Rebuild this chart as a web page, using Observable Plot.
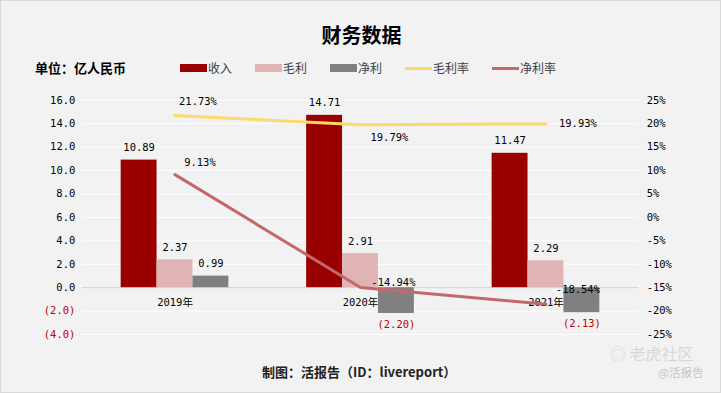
<!DOCTYPE html>
<html><head><meta charset="utf-8">
<script src="https://cdn.jsdelivr.net/npm/d3@7"></script>
<script src="https://cdn.jsdelivr.net/npm/@observablehq/plot@0.6"></script>
<style>
body{margin:0;background:#fff}
#wrap{position:relative;width:719px;height:391px;background:#f2f2f2;border:1px solid #d9d9d9;overflow:hidden;font-family:"Noto Sans CJK SC",sans-serif}
.abs{position:absolute;white-space:nowrap}
#wrap svg{position:absolute;left:-1px;top:-1px}
#legend{position:absolute;left:179px;top:59px;display:flex;gap:23px;align-items:center;font-size:12px;color:#404040;line-height:16px}
#legend .it{display:flex;align-items:center}
#legend .sw{width:27px;margin-right:1px}
</style></head>
<body>
<div id="wrap">
  <div class="abs" style="left:0;width:721px;top:20px;text-align:center;font-size:20px;font-weight:bold;line-height:28px;color:#000">财务数据</div>
  <div class="abs" style="left:34px;top:58px;font-size:13px;font-weight:bold;line-height:18px;color:#000">单位：亿人民币</div>
  <div id="legend"></div>
  <div class="abs" style="left:261px;top:362px;font-size:13px;font-weight:bold;line-height:18px;color:#222">制图：活报告（ID：livereport）</div>
  <div class="abs" style="left:609px;top:344px;font-size:16px;line-height:17px;color:#d8d8d8">◎ 老虎社区</div>
  <div class="abs" style="left:657px;top:364px;font-size:11.5px;line-height:14px;color:#c4c4c4">@活报告</div>
</div>
<script>
// ---- data ----
const years = ["2019年", "2020年", "2021年"];
const seriesNames = ["收入", "毛利", "净利"];
const revenue = [10.89, 14.71, 11.47];
const grossProfit = [2.37, 2.91, 2.29];
const netProfit = [0.99, -2.20, -2.13];
const marginNames = ["毛利率", "净利率"];
const grossMargin = [21.73, 19.79, 19.93];
const netMargin = [9.13, -14.94, -18.54];
const leftTicks = [-4, -2, 0, 2, 4, 6, 8, 10, 12, 14, 16];
const rightTicks = [-25, -20, -15, -10, -5, 0, 5, 10, 15, 20, 25];

// ---- styles ----
const barColors = ["#990000", "#e0b4b4", "#808080"];
const lineColors = ["#fcd96b", "#c3686b"];
const mono = "'DejaVu Sans Mono','Noto Sans CJK SC',monospace";

const bars = years.flatMap((y, i) => [
  {year: y, s: seriesNames[0], v: revenue[i]},
  {year: y, s: seriesNames[1], v: grossProfit[i]},
  {year: y, s: seriesNames[2], v: netProfit[i]}
]);
const margins = years.map((y, i) => ({year: y, gm: grossMargin[i], nm: netMargin[i]}));
// map right-axis percent onto left-axis units: 25% ↔ 16, -25% ↔ -4
const toLeft = p => 6 + 0.4 * p;

const dims = {
  width: 721, height: 393, marginTop: 100, marginBottom: 58, marginLeft: 82, marginRight: 81,
  style: {background: "transparent", fontFamily: mono, fontSize: "10px", color: "#000"}
};

// background grid + bars
const p1 = Plot.plot({
  ...dims,
  fx: {domain: years, padding: 0, axis: null},
  x: {domain: seriesNames, paddingInner: 0, paddingOuter: 39 / 36, axis: null},
  y: {domain: [-4, 16], axis: null},
  color: {domain: seriesNames, range: barColors},
  marks: [
    Plot.gridY(leftTicks, {stroke: "#ffffff", strokeOpacity: 1, strokeWidth: 1}),
    Plot.ruleY([0], {stroke: "#d0d0d0", strokeWidth: 1}),
    Plot.barY(bars, {fx: "year", x: "s", y: "v", fill: "s"}),
    Plot.text(bars.filter(d => d.v >= 0), {fx: "year", x: "s", y: "v", text: d => d.v.toFixed(2), lineAnchor: "bottom", dy: -9, fill: "#000", fontSize: 10.5}),
    Plot.text(bars.filter(d => d.v < 0), {fx: "year", x: "s", y: "v", text: d => `(${Math.abs(d.v).toFixed(2)})`, lineAnchor: "top", dy: 7, fill: "#c00000", fontSize: 10.5}),
    Plot.text(years, {fx: d => d, y: () => 0, text: d => d, lineAnchor: "middle", dy: 15, fill: "#000", fontSize: 10.5})
  ]
});

// axes + lines
const gmOff = [[23, -14], [29, 13], [32, 0]];
const nmOff = [[25, -12], [33, -5], [32, -15]];
const p2 = Plot.plot({
  ...dims,
  x: {type: "point", domain: years, padding: 0.5, axis: null},
  y: {domain: [-4, 16], axis: null},
  marks: [
    Plot.axisY(leftTicks.filter(v => v >= 0), {anchor: "left", tickSize: 0, tickPadding: 7, tickFormat: d => d.toFixed(1), fill: "#000", fontSize: 10.5}),
    Plot.axisY(leftTicks.filter(v => v < 0), {anchor: "left", tickSize: 0, tickPadding: 7, tickFormat: d => `(${(-d).toFixed(1)})`, fill: "#c00000", fontSize: 10.5}),
    Plot.axisY(rightTicks.map(toLeft), {anchor: "right", tickSize: 0, tickPadding: 8, tickFormat: d => `${Math.round((d - 6) / 0.4)}%`, fill: "#000", fontSize: 10.5}),
    Plot.line(margins, {x: "year", y: d => toLeft(d.gm), stroke: lineColors[0], strokeWidth: 3}),
    Plot.line(margins, {x: "year", y: d => toLeft(d.nm), stroke: lineColors[1], strokeWidth: 3}),
    ...margins.map((m, i) => Plot.text([m], {x: "year", y: d => toLeft(d.gm), text: d => d.gm.toFixed(2) + "%", dx: gmOff[i][0], dy: gmOff[i][1], fill: "#000", fontSize: 10.5})),
    ...margins.map((m, i) => Plot.text([m], {x: "year", y: d => toLeft(d.nm), text: d => d.nm.toFixed(2) + "%", dx: nmOff[i][0], dy: nmOff[i][1], fill: "#000", fontSize: 10.5}))
  ]
});

const wrap = document.getElementById("wrap");
wrap.appendChild(p1);
wrap.appendChild(p2);

// legend
const legend = document.getElementById("legend");
const items = [
  ...seriesNames.map((n, i) => ({n, c: barColors[i], h: 8})),
  ...marginNames.map((n, i) => ({n, c: lineColors[i], h: 3}))
];
for (const it of items) {
  const el = document.createElement("div");
  el.className = "it";
  el.innerHTML = `<span class="sw" style="height:${it.h}px;background:${it.c}"></span><span>${it.n}</span>`;
  legend.appendChild(el);
}
</script>
</body></html>
